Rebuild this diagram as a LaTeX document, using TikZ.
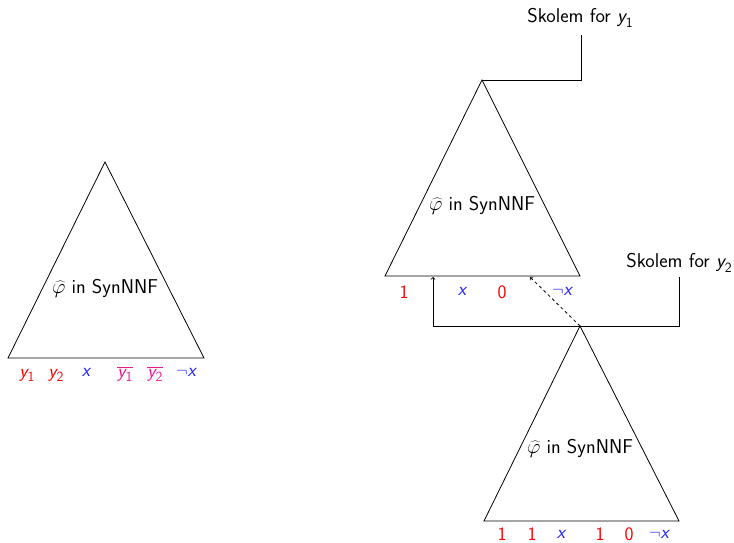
\documentclass[tikz,border=0pt]{standalone}
\usetikzlibrary{calc}
\definecolor{vred}{rgb}{1,0,0}
\definecolor{vblue}{rgb}{0.15,0.15,1}
\definecolor{vpink}{rgb}{0.9,0.1,0.55}
\newcommand{\sv}[2]{{\itshape #1}\raisebox{-0.25em}{\fontsize{14}{15}\selectfont #2}}
\newcommand{\svo}[2]{\ensuremath{\overline{\mbox{\sv{#1}{#2}}}}}
\newcommand{\phat}{\ensuremath{\widehat{\varphi}}}
\begin{document}
\begin{tikzpicture}[x=1pt,y=-1pt,
  tri/.style={draw,line width=0.8pt},
  lab/.style={font=\fontsize{19}{23}\sffamily,inner sep=0pt,anchor=base},
  txt/.style={font=\fontsize{20}{24}\sffamily,inner sep=1pt},
  rv/.style={lab,text=vred},
  bv/.style={lab,text=vblue},
  pv/.style={lab,text=vpink},
  conn/.style={line width=0.8pt},
  >=to]
\useasboundingbox (0,0) rectangle (734,543);
% left triangle
\coordinate (LA) at (105,162);
\coordinate (LL) at (8,358);
\coordinate (LR) at (204,358);
\draw[tri] (LA) -- (LL) -- (LR) -- cycle;
\node[txt] (Lt) at (105,288) {\phat{} in SynNNF};
\node[rv] (l1) at (27,377) {\sv{y}{1}};
\node[rv] (l2) at (56,377) {\sv{y}{2}};
\node[bv] (l3) at (86,376) {\itshape x};
\node[pv] (l4) at (125,377) {\svo{y}{1}};
\node[pv] (l5) at (155,377) {\svo{y}{2}};
\node[bv] (l6) at (186,376) {$\neg$\itshape x};
% top right triangle
\coordinate (TA) at (482,80);
\coordinate (TL) at (385,276);
\coordinate (TR) at (580,276);
\draw[tri] (TA) -- (TL) -- (TR) -- cycle;
\node[txt] (Tt) at (482,205) {\phat{} in SynNNF};
\node[rv] (t1) at (404,298) {1};
\node[bv] (t2) at (462,295) {\itshape x};
\node[rv] (t3) at (502,298) {0};
\node[bv] (t4) at (562,295) {$\neg$\itshape x};
\node[txt] (S1) at (580,18) {Skolem for \sv{y}{1}};
\coordinate (S1b) at (581,35);
\draw[conn] (TA) -- (S1b |- TA) -- (S1b);
% bottom triangle
\coordinate (BA) at (580,326);
\coordinate (BL) at (484,521);
\coordinate (BR) at (679,521);
\draw[tri] (BA) -- (BL) -- (BR) -- cycle;
\node[txt] (Bt) at (580,448) {\phat{} in SynNNF};
\node[rv] (b1) at (502,540) {1};
\node[rv] (b2) at (532,540) {1};
\node[bv] (b3) at (561,538) {\itshape x};
\node[rv] (b4) at (600,540) {1};
\node[rv] (b5) at (629,540) {0};
\node[bv] (b6) at (659,538) {$\neg$\itshape x};
\node[txt] (S2) at (679,263) {Skolem for \sv{y}{2}};
\coordinate (S2b) at (679,277);
\coordinate (A1) at (433,277);
\coordinate (A2) at (530,277);
\draw[conn,->] (S2b) -- (S2b |- BA) -- (A1 |- BA) -- (A1);
\draw[conn,dashed,->] (BA) -- (A2);
\end{tikzpicture}
\end{document}
